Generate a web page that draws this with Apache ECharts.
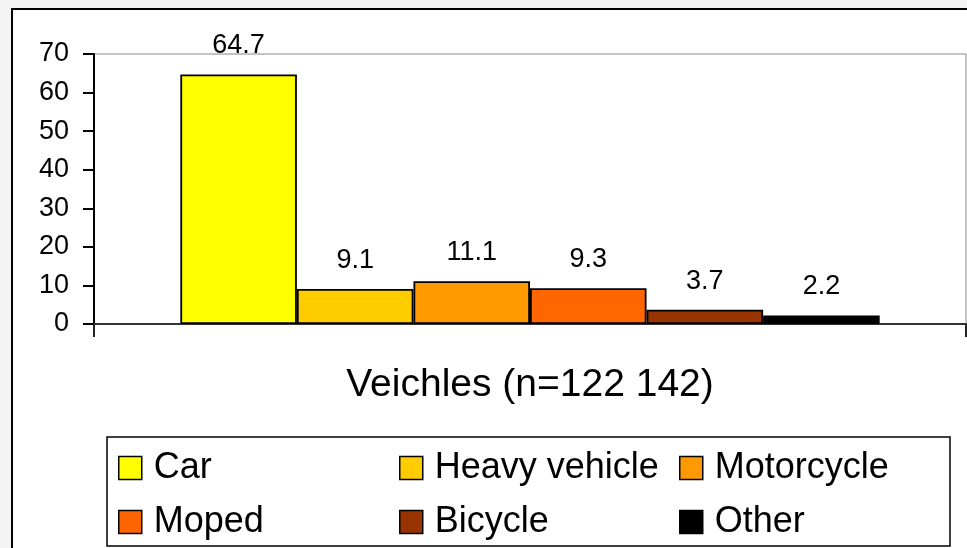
<!DOCTYPE html>
<html>
<head>
<meta charset="utf-8">
<script src="https://cdn.jsdelivr.net/npm/echarts@6/dist/echarts.min.js"></script>
<style>
  html, body { margin: 0; padding: 0; background: #f4f4f4; }
  #chart { width: 967px; height: 548px; }
</style>
</head>
<body>
<div id="chart"></div>
<script>
// data
const categories = ["Veichles (n=122 142)"];
const seriesNames = ["Car", "Heavy vehicle", "Motorcycle", "Moped", "Bicycle", "Other"];
const seriesValues = [64.7, 9.1, 11.1, 9.3, 3.7, 2.2];
const yMin = 0;
const yMax = 70;
const yStep = 10;

const palette = ["#ffff00", "#ffcc00", "#ff9900", "#ff6600", "#993300", "#000000"];
const font = "'Liberation Sans', Arial, sans-serif";

let series = seriesNames.map((name, i) => {
  return {
    name: name,
    type: "bar",
    data: [seriesValues[i]],
    barGap: "0%",
    barCategoryGap: "19.8%",
    itemStyle: {
      color: palette[i],
      borderColor: "#000",
      borderWidth: 1.8
    },
    label: {
      show: true,
      position: "top",
      distance: 15,
      color: "#000",
      fontFamily: font,
      fontSize: 27
    }
  };
});

// legend is laid out in three columns, two rows
function legendCol(names, left) {
  return {
    data: names,
    orient: "vertical",
    left: left,
    top: 450,
    padding: 0,
    itemGap: 18,
    itemWidth: 23,
    itemHeight: 23,
    icon: "rect",
    itemStyle: { borderColor: "#000", borderWidth: 1.5 },
    textStyle: {
      fontFamily: font,
      fontSize: 36,
      color: "#000",
      lineHeight: 36,
      padding: [0, 0, 0, 7]
    }
  };
}

let option = {
  animation: false,
  backgroundColor: "#f4f4f4",
  color: palette,
  graphic: [
    {
      type: "rect",
      z: -10,
      shape: { x: 12, y: 9, width: 1000, height: 600 },
      style: { fill: "#fff", stroke: "#000", lineWidth: 2 }
    },
    {
      type: "rect",
      z: -5,
      shape: { x: 107, y: 437, width: 843, height: 109 },
      style: { fill: "#fff", stroke: "#000", lineWidth: 1.5 }
    }
  ],
  grid: {
    left: 94,
    right: 1,
    top: 54,
    bottom: 224,
    show: true,
    backgroundColor: "transparent",
    borderColor: "#888",
    borderWidth: 1
  },
  legend: [
    legendCol([seriesNames[0], seriesNames[3]], 118),
    legendCol([seriesNames[1], seriesNames[4]], 399),
    legendCol([seriesNames[2], seriesNames[5]], 679)
  ],
  xAxis: {
    type: "category",
    data: categories,
    axisLine: { lineStyle: { color: "#333", width: 2 } },
    axisTick: { show: true, length: 13, lineStyle: { color: "#222", width: 2 } },
    axisLabel: {
      margin: 42,
      fontFamily: font,
      fontSize: 39,
      color: "#000"
    }
  },
  yAxis: {
    type: "value",
    min: yMin,
    max: yMax,
    interval: yStep,
    splitLine: { show: false },
    axisLine: { show: true, lineStyle: { color: "#000", width: 2 } },
    axisTick: { show: true, length: 11, lineStyle: { color: "#000", width: 2 } },
    axisLabel: {
      margin: 25,
      fontFamily: font,
      fontSize: 27,
      color: "#000"
    }
  },
  series: series
};

let mychart = echarts.init(document.getElementById("chart"));
mychart.setOption(option);
</script>
</body>
</html>
